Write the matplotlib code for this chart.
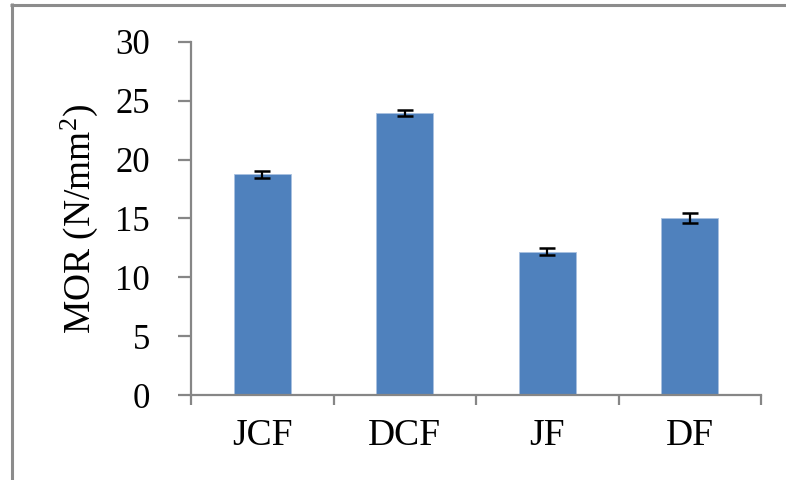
import matplotlib
matplotlib.use("Agg")
import matplotlib.pyplot as plt
from matplotlib.lines import Line2D

categories = ["JCF", "DCF", "JF", "DF"]
mor_values = [18.75, 23.98, 12.18, 15.05]
mor_errors = [0.30, 0.28, 0.32, 0.40]
y_ticks = [0, 5, 10, 15, 20, 25, 30]

plt.rcParams['font.family'] = ['Liberation Serif', 'DejaVu Serif']
plt.rcParams['mathtext.fontset'] = 'custom'
plt.rcParams['mathtext.rm'] = 'Liberation Serif'
plt.rcParams['mathtext.it'] = 'Liberation Serif:italic'

W, H = 786, 480
fig = plt.figure(figsize=(W / 100, H / 100), dpi=100)
ax = fig.add_axes([191 / W, 1 - 395 / H, (761 - 191) / W, (395 - 42) / H])

axis_col = '#868686'
x = list(range(len(categories)))
ax.bar(x, mor_values, width=0.4, color='#4F81BD', edgecolor='#a9c1e0',
       linewidth=0.6, zorder=2)
ax.errorbar(x, mor_values, yerr=mor_errors, fmt='none', ecolor='black',
            elinewidth=1.6, capsize=6, capthick=1.8, zorder=3)

ax.set_xlim(-0.5, len(categories) - 0.5)
ax.set_ylim(0, 30)
ax.set_yticks(y_ticks)
ax.set_yticklabels([str(v) for v in y_ticks])

ax.set_xticks([i - 0.5 for i in range(len(categories) + 1)])
ax.set_xticklabels([])
ax.set_xticks(x, minor=True)
ax.set_xticklabels(categories, minor=True)

for s in ['top', 'right']:
    ax.spines[s].set_visible(False)
for s in ['left', 'bottom']:
    ax.spines[s].set_color(axis_col)
    ax.spines[s].set_linewidth(1.6)

ax.tick_params(axis='y', which='major', direction='out', length=9.5,
               width=1.6, color=axis_col, pad=20, labelsize=25)
ax.tick_params(axis='x', which='major', direction='out', length=7.5,
               width=1.6, color=axis_col)
ax.tick_params(axis='x', which='minor', length=0, pad=17, labelsize=27)

ax.set_ylabel(r'MOR (N/mm$^{2}$)', fontsize=27)
ax.yaxis.set_label_coords(-0.16, 0.5)

border_col = '#8c8c8c'
fig.add_artist(Line2D([11.5 / W, 11.5 / W], [0, 1 - 3 / H],
                      transform=fig.transFigure, color=border_col, lw=2.2,
                      solid_capstyle='butt'))
fig.add_artist(Line2D([10 / W, 1], [1 - 4.5 / H, 1 - 4.5 / H],
                      transform=fig.transFigure, color=border_col, lw=2.2,
                      solid_capstyle='butt'))

fig.savefig('out.png', dpi=100)
